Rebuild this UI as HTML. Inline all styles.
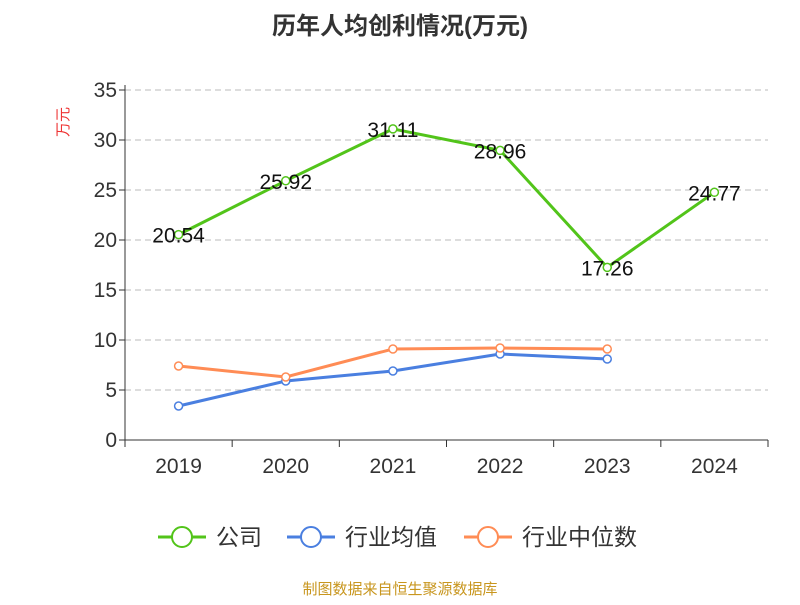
<!DOCTYPE html>
<html><head><meta charset="utf-8"><style>
body{margin:0;background:#fff;}
svg text{font-family:"Liberation Sans","Noto Sans CJK SC",sans-serif;}
</style></head><body>
<svg id="chart" width="800" height="600">
<text x="400" y="34" text-anchor="middle" font-size="24" font-weight="bold" fill="#333">历年人均创利情况(万元)</text>
<text x="64" y="122" font-size="15" fill="#e33" transform="rotate(-90 64 122)" text-anchor="middle" dominant-baseline="middle">万元</text>
<g id="grid"></g><g id="axes"></g><g id="series"></g>
<g>
<g><line x1="158" y1="537" x2="206" y2="537" stroke="#52c41a" stroke-width="3"/><circle cx="182" cy="537" r="10" fill="#fff" stroke="#52c41a" stroke-width="2"/><text x="216" y="545" font-size="23" fill="#333">公司</text></g>
<g><line x1="287" y1="537" x2="335" y2="537" stroke="#4a7fe0" stroke-width="3"/><circle cx="311" cy="537" r="10" fill="#fff" stroke="#4a7fe0" stroke-width="2"/><text x="345" y="545" font-size="23" fill="#333">行业均值</text></g>
<g><line x1="464" y1="537" x2="512" y2="537" stroke="#ff8c55" stroke-width="3"/><circle cx="488" cy="537" r="10" fill="#fff" stroke="#ff8c55" stroke-width="2"/><text x="522" y="545" font-size="23" fill="#333">行业中位数</text></g>
</g>
<text x="400" y="594" text-anchor="middle" font-size="15" fill="#c8961e">制图数据来自恒生聚源数据库</text>
</svg>
<script>
const categories=["2019","2020","2021","2022","2023","2024"];
const company=[20.54,25.92,31.11,28.96,17.26,24.77];
const industryAvg=[3.4,5.9,6.9,8.6,8.1];
const industryMedian=[7.4,6.3,9.1,9.2,9.1];
const yTicks=[0,5,10,15,20,25,30,35];
const NS="http://www.w3.org/2000/svg";
const x0=125,x1=768,yTop=90,yBot=440,yMax=35;
const band=(x1-x0)/categories.length;
const xs=i=>x0+band*(i+0.5);
const ys=v=>yBot-(v/yMax)*(yBot-yTop);
function mk(tag,attrs,parent,txt){const e=document.createElementNS(NS,tag);for(const k in attrs)e.setAttribute(k,attrs[k]);if(txt!==undefined)e.textContent=txt;document.getElementById(parent).appendChild(e);return e;}
yTicks.forEach(t=>{
 if(t>0){const g=mk('line',{x1:x0,x2:x1,y1:ys(t),y2:ys(t),stroke:'#bbb','stroke-dasharray':'6,4'},'grid');
 
 }
 const tk=mk('line',{x1:x0-6,x2:x0,y1:ys(t),y2:ys(t),stroke:'#333'},'axes');
 
 
 const l=mk('text',{x:x0-8,y:ys(t)+7,'text-anchor':'end','font-size':21,fill:'#333'},'axes',t);
 
 
});
const ya=mk('line',{x1:x0,x2:x0,y1:yTop-5,y2:yBot,stroke:'#333'},'axes');


const xa=mk('line',{x1:x0,x2:x1,y1:yBot,y2:yBot,stroke:'#333'},'axes');


for(let i=0;i<=categories.length;i++){const tk=mk('line',{x1:x0+band*i,x2:x0+band*i,y1:yBot,y2:yBot+7,stroke:'#333'},'axes');
 
 }
categories.forEach((c,i)=>{const l=mk('text',{x:xs(i),y:yBot+33,'text-anchor':'middle','font-size':21,fill:'#333'},'axes',c);
 
 });
function series(vals,color,name,labels){
 const p=mk('polyline',{points:vals.map((v,i)=>xs(i)+','+ys(v)).join(' '),fill:'none',stroke:color,'stroke-width':3},'series');
 
 
 vals.forEach((v,i)=>{const c=mk('circle',{cx:xs(i),cy:ys(v),r:4,fill:'#fff',stroke:color,'stroke-width':1.5},'series');
  
  
  if(labels){const t=mk('text',{x:xs(i),y:ys(v)+8,'text-anchor':'middle','font-size':21,fill:'#111'},'series',v.toFixed(2));
  
  }
 });
}
series(industryAvg,'#4a7fe0','industry-avg',false);
series(industryMedian,'#ff8c55','industry-median',false);
series(company,'#52c41a','company',true);
</script>
</body></html>
